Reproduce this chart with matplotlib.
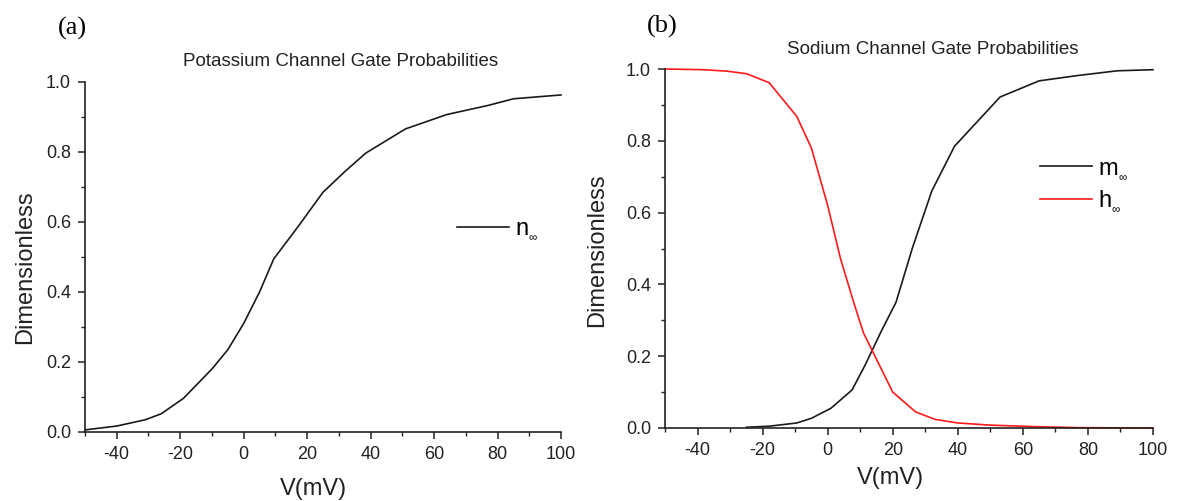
import matplotlib
matplotlib.use("Agg")
import matplotlib.pyplot as plt
from matplotlib.ticker import MultipleLocator

plt.rcParams['font.family'] = ['Liberation Sans', 'DejaVu Sans']
plt.rcParams['mathtext.fontset'] = 'custom'
plt.rcParams['mathtext.rm'] = 'Liberation Sans'
plt.rcParams['mathtext.it'] = 'Liberation Sans'
plt.rcParams['axes.unicode_minus'] = False

# Panel (a): potassium channel gate
v_n = [-50, -40, -31, -26, -19, -10, -5, 0, 5, 9.5, 17, 25, 32, 38.5, 51, 64, 77, 85, 100]
n_inf = [0.006, 0.017, 0.035, 0.052, 0.096, 0.18, 0.235, 0.31, 0.40, 0.495, 0.585,
         0.685, 0.745, 0.797, 0.866, 0.907, 0.933, 0.952, 0.963]

# Panel (b): sodium channel gates
v_m = [-25, -18, -9.5, -5, 1, 7.5, 11.5, 16.5, 21, 26, 32, 39, 53, 65, 77, 89, 100]
m_inf = [0.002, 0.005, 0.014, 0.027, 0.055, 0.106, 0.175, 0.27, 0.35, 0.5, 0.66,
         0.785, 0.922, 0.967, 0.982, 0.995, 0.998]
v_h = [-50, -38, -31, -25, -18, -9.5, -5, 0, 4, 8, 11, 20, 27, 33, 40, 50, 63, 77, 100]
h_inf = [1.0, 0.998, 0.994, 0.987, 0.962, 0.868, 0.78, 0.62, 0.47, 0.35, 0.265, 0.10,
         0.045, 0.024, 0.014, 0.008, 0.004, 0.001, 0.0]

W, H = 1184, 501
fig = plt.figure(figsize=(W / 100, H / 100), dpi=100)

def box(l, r, t, b):
    return [l / W, 1 - b / H, (r - l) / W, (b - t) / H]

ax1 = fig.add_axes(box(85, 561, 82, 432))
ax2 = fig.add_axes(box(665, 1153, 69, 428))

line_col = '#1a1a1a'
for ax in (ax1, ax2):
    ax.set_xlim(-50, 100)
    ax.set_ylim(0, 1.0)
    ax.spines['top'].set_visible(False)
    ax.spines['right'].set_visible(False)
    for s in ('left', 'bottom'):
        ax.spines[s].set_linewidth(1.2)
        ax.spines[s].set_color('#222222')
    ax.xaxis.set_major_locator(MultipleLocator(20))
    ax.xaxis.set_minor_locator(MultipleLocator(10))
    ax.yaxis.set_major_locator(MultipleLocator(0.2))
    ax.yaxis.set_minor_locator(MultipleLocator(0.1))
    ax.tick_params(which='major', direction='out', length=5, width=1.1, labelsize=13,
                   pad=5, colors='#222222')
    ax.tick_params(which='minor', direction='out', length=3, width=1.0, colors='#222222')
    ax.set_xticks([-40, -20, 0, 20, 40, 60, 80, 100])
    ax.set_yticks([0.0, 0.2, 0.4, 0.6, 0.8, 1.0])
    ax.set_yticklabels(['0.0', '0.2', '0.4', '0.6', '0.8', '1.0'])
    ax.patch.set_visible(False)

ax1.plot(v_n, n_inf, color=line_col, lw=1.2, label=r'n$_{_\infty}$', clip_on=False)
ax2.plot(v_m, m_inf, color=line_col, lw=1.2, label=r'm$_{_\infty}$', clip_on=False)
ax2.plot(v_h, h_inf, color='#ff1a1a', lw=1.2, label=r'h$_{_\infty}$', clip_on=False)

leg_kw = dict(frameon=False, fontsize=17, handlelength=2.2, handletextpad=0.25,
              labelspacing=0.3, borderpad=0, borderaxespad=0)
ax1.legend(loc='center left', bbox_to_anchor=((457 - 85) / 476, (432 - 230) / 350), **leg_kw)
ax2.legend(loc='center left', bbox_to_anchor=((1040 - 665) / 488, (428 - 186) / 359), **leg_kw)

fig.text(341 / W, 1 - 62 / H, 'Potassium Channel Gate Probabilities', ha='center', va='center',
         fontsize=13.5, color='#222222')
fig.text(933 / W, 1 - 50 / H, 'Sodium Channel Gate Probabilities', ha='center', va='center',
         fontsize=13.5, color='#222222')

fig.text(25 / W, 1 - 267 / H, 'Dimensionless', rotation=90, ha='center', va='center',
         fontsize=17, color='#222222')
fig.text(597 / W, 1 - 250 / H, 'Dimensionless', rotation=90, ha='center', va='center',
         fontsize=17, color='#222222')
fig.text(313 / W, 1 - 489 / H, 'V(mV)', ha='center', va='center', fontsize=17, color='#222222')
fig.text(890 / W, 1 - 478 / H, 'V(mV)', ha='center', va='center', fontsize=17, color='#222222')

fig.text(72 / W, 1 - 28 / H, '(a)', ha='center', va='center', fontsize=19,
         family=['Liberation Serif', 'DejaVu Serif'])
fig.text(662 / W, 1 - 26 / H, '(b)', ha='center', va='center', fontsize=19,
         family=['Liberation Serif', 'DejaVu Serif'])

fig.savefig('out.png', dpi=100)
